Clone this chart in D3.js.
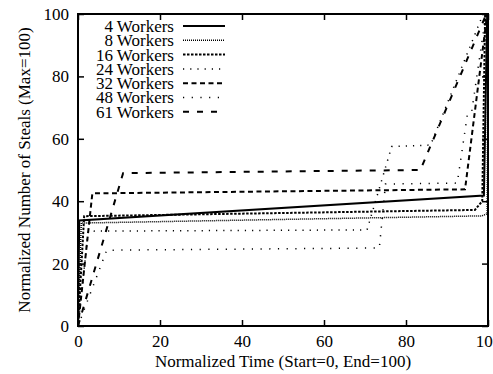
<!DOCTYPE html>
<html>
<head>
<meta charset="utf-8">
<script src="https://cdn.jsdelivr.net/npm/d3@7"></script>
<style>
  body { margin: 0; background: #fff; }
</style>
</head>
<body>
<div id="chart"></div>
<script>
// data (normalized time, normalized steals)
const seriesNames = ['4 Workers', '8 Workers', '16 Workers', '24 Workers', '32 Workers', '48 Workers', '61 Workers'];
const w4  = [[0, 0], [0.3, 33.8], [99, 41.8], [99.8, 100]];
const w8  = [[0, 0], [0.8, 33], [98.5, 35.3], [99.8, 36], [100, 100]];
const w16 = [[0, 0], [1.5, 35.2], [96.8, 37.2], [98.6, 40], [99.3, 100]];
const w24 = [[0, 0], [2.5, 30.4], [70.5, 30.8], [76.5, 57.5], [86, 58], [98.8, 100]];
const w32 = [[0, 0], [3.5, 42.5], [94.4, 43.8], [99.8, 100]];
const w48 = [[0, 0], [7, 24.3], [73.5, 25], [75, 45.5], [92.5, 45.8], [95, 68], [96, 68.5], [99.5, 100]];
const w61 = [[0, 0], [11, 49], [83.5, 50], [99.6, 100]];
const seriesValues = [w4, w8, w16, w24, w32, w48, w61];
const xTicks = [0, 20, 40, 60, 80, 100];
const yTicks = [0, 20, 40, 60, 80, 100];

const dashes = [null, '1,1', '2.5,1.5', '1.2,6', '5,3.5', '1.2,7.5', '6,8'];
const widths = [2, 1.5, 2, 1.5, 2, 1.5, 2];
const serif = 'Liberation Serif';

const width = 493, height = 374;
const margin = { left: 78, right: 5, top: 14, bottom: 48 };
const innerW = 488 - margin.left;
const innerH = 326 - margin.top;

const svg = d3.select('#chart').append('svg')
  .attr('width', width)
  .attr('height', height)
  .attr('font-family', serif);

const x = d3.scaleLinear().domain([0, 100]).range([margin.left, margin.left + innerW]);
const y = d3.scaleLinear().domain([0, 100]).range([margin.top + innerH, margin.top]);

svg.append('clipPath').attr('id', 'plot-clip')
  .append('rect')
  .attr('x', x(0) - 1).attr('y', y(100) - 1)
  .attr('width', innerW + 2).attr('height', innerH + 2);

// axes with inward ticks on all four sides
const tickLen = 6;
svg.append('g')
  .attr('transform', `translate(0,${y(0)})`)
  .call(d3.axisBottom(x).tickValues(xTicks).tickSize(-tickLen).tickPadding(tickLen + 3))
  .call(g => g.select('.domain').remove());
svg.append('g')
  .attr('transform', `translate(0,${y(100)})`)
  .call(d3.axisTop(x).tickValues(xTicks).tickSize(-tickLen).tickFormat(''))
  .call(g => g.select('.domain').remove());
svg.append('g')
  .attr('transform', `translate(${x(0)},0)`)
  .call(d3.axisLeft(y).tickValues(yTicks).tickSize(-tickLen).tickPadding(tickLen + 3))
  .call(g => g.select('.domain').remove());
svg.append('g')
  .attr('transform', `translate(${x(100)},0)`)
  .call(d3.axisRight(y).tickValues(yTicks).tickSize(-tickLen).tickFormat(''))
  .call(g => g.select('.domain').remove());

svg.selectAll('g').attr('font-family', serif).attr('font-size', 17);
svg.selectAll('.tick line').attr('stroke', '#000').attr('stroke-width', 1.5);
svg.selectAll('.tick text').attr('fill', '#000');

const line = d3.line()
  .x(d => x(d[0]))
  .y(d => y(d[1]));

const plot = svg.append('g').attr('clip-path', 'url(#plot-clip)');
plot.selectAll('path.series')
  .data(seriesValues)
  .enter()
  .append('path')
  .attr('class', 'series')
  .attr('d', line)
  .attr('fill', 'none')
  .attr('stroke', '#000')
  .attr('stroke-width', (d, i) => widths[i])
  .attr('stroke-dasharray', (d, i) => dashes[i]);

// border
svg.append('rect')
  .attr('x', x(0)).attr('y', y(100))
  .attr('width', innerW).attr('height', innerH)
  .attr('fill', 'none')
  .attr('stroke', '#000')
  .attr('stroke-width', 2);

// legend
const legend = svg.append('g');
const rows = legend.selectAll('g')
  .data(seriesNames)
  .enter()
  .append('g')
  .attr('transform', (d, i) => `translate(0,${26 + i * 14.3})`);
rows.append('text')
  .attr('x', 174)
  .attr('dy', '0.35em')
  .attr('text-anchor', 'end')
  .attr('font-family', serif)
  .attr('font-size', 17)
  .text(d => d);
rows.append('line')
  .attr('x1', 183).attr('x2', 225)
  .attr('stroke', '#000')
  .attr('stroke-width', (d, i) => widths[i])
  .attr('stroke-dasharray', (d, i) => dashes[i]);

// axis titles
svg.append('text')
  .attr('x', 283).attr('y', 367)
  .attr('text-anchor', 'middle')
  .attr('font-family', serif)
  .attr('font-size', 17)
  .text('Normalized Time (Start=0, End=100)');
svg.append('text')
  .attr('transform', `translate(30,${y(50)}) rotate(-90)`)
  .attr('text-anchor', 'middle')
  .attr('font-family', serif)
  .attr('font-size', 17)
  .text('Normalized Number of Steals (Max=100)');
</script>
</body>
</html>
